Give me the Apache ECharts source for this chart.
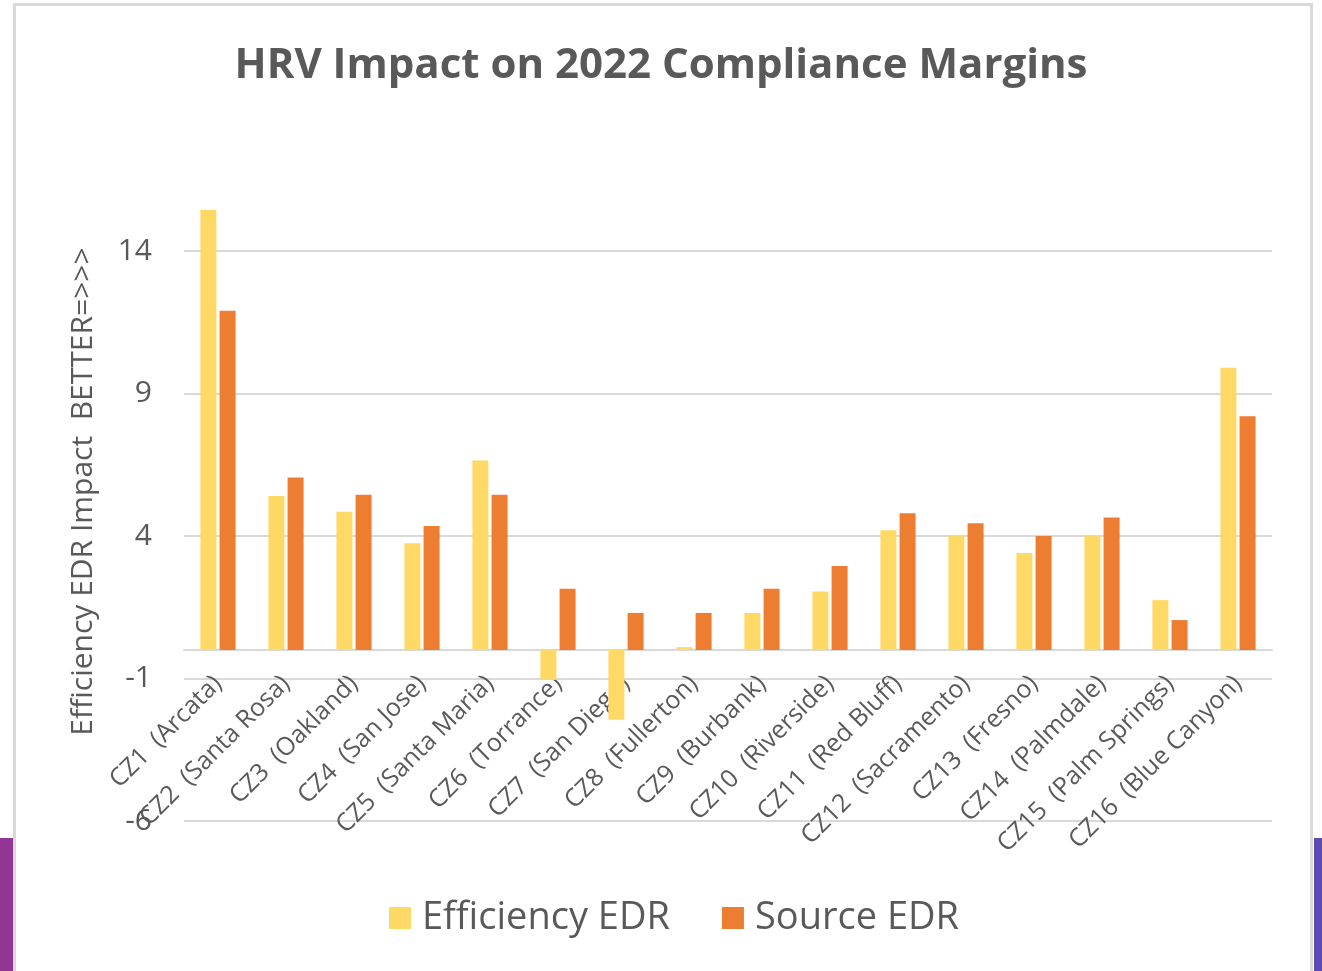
<!DOCTYPE html>
<html>
<head>
<meta charset="utf-8">
<script src="https://cdn.jsdelivr.net/npm/echarts@6/dist/echarts.min.js"></script>
<style>
  html, body { margin: 0; padding: 0; background: #ffffff; }
  #chart { width: 1322px; height: 971px; }
</style>
</head>
<body>
<div id="chart"></div>
<script>
const categories = [
  'CZ1  (Arcata)', 'CZ2  (Santa Rosa)', 'CZ3  (Oakland)', 'CZ4  (San Jose)',
  'CZ5  (Santa Maria)', 'CZ6  (Torrance)', 'CZ7  (San Diego)', 'CZ8  (Fullerton)',
  'CZ9  (Burbank)', 'CZ10  (Riverside)', 'CZ11  (Red Bluff)', 'CZ12  (Sacramento)',
  'CZ13  (Fresno)', 'CZ14  (Palmdale)', 'CZ15  (Palm Springs)', 'CZ16  (Blue Canyon)'
];
const efficiencyEDR = [15.45, 5.4, 4.85, 3.75, 6.65, -1.05, -2.45, 0.1, 1.3, 2.05, 4.2, 4.0, 3.4, 4.0, 1.75, 9.9];
const sourceEDR = [11.9, 6.05, 5.45, 4.35, 5.45, 2.15, 1.3, 1.3, 2.15, 2.95, 4.8, 4.45, 4.0, 4.65, 1.05, 8.2];
const yTicks = { min: -6, max: 16, interval: 5 };

const textColor = '#595959';
const font = '"Open Sans", "Noto Sans", sans-serif';

// plot area, in px
const gridTop = 194;
const gridBottom = 150;
const plotHeight = 971 - gridTop - gridBottom;
// distance of the zero line above the plot bottom
const zeroOffset = plotHeight * (0 - yTicks.min) / (yTicks.max - yTicks.min);

const chart = echarts.init(document.getElementById('chart'), null, { renderer: 'canvas' });

chart.setOption({
  backgroundColor: '#ffffff',
  animation: false,
  textStyle: { fontFamily: font },
  title: {
    text: 'HRV Impact on 2022 Compliance Margins',
    left: 'center',
    top: 40,
    textStyle: { fontFamily: font, fontSize: 42, fontWeight: 'bold', color: textColor }
  },
  graphic: [
    { type: 'rect', shape: { x: 0, y: 838, width: 13, height: 133 }, style: { fill: '#933594' } },
    { type: 'rect', shape: { x: 1314, y: 838, width: 8, height: 133 }, style: { fill: '#5e4ab4' } },
    { type: 'rect', shape: { x: 14.5, y: 4.5, width: 1297, height: 980 }, style: { fill: 'none', stroke: '#d9d9d9', lineWidth: 3 } }
  ],
  legend: {
    bottom: 29,
    left: 384,
    itemWidth: 22,
    itemHeight: 22,
    itemGap: 52,
    icon: 'rect',
    textStyle: { fontFamily: font, fontSize: 38, color: textColor, padding: [0, 0, 0, 6] },
    data: ['Efficiency EDR', 'Source EDR']
  },
  grid: { left: 184, right: 50, top: gridTop, bottom: gridBottom, outerBoundsMode: 'none', containLabel: false },
  xAxis: {
    type: 'category',
    data: categories,
    offset: -zeroOffset,
    axisLine: { onZero: false, lineStyle: { color: '#d9d9d9', width: 2 } },
    axisTick: { show: false },
    axisLabel: {
      rotate: 45,
      interval: 0,
      margin: 30,
      fontFamily: font,
      fontSize: 25,
      color: textColor
    }
  },
  yAxis: {
    type: 'value',
    min: yTicks.min,
    max: yTicks.max,
    interval: yTicks.interval,
    name: 'Efficiency EDR Impact  BETTER=>>>',
    nameLocation: 'middle',
    nameGap: 86,
    nameTextStyle: { fontFamily: font, fontSize: 30, color: textColor, padding: [0, 0, 0, 32] },
    axisLine: { show: false },
    axisTick: { show: false },
    axisLabel: { fontFamily: font, fontSize: 30, color: textColor, margin: 32, showMaxLabel: false },
    splitLine: { show: true, showMaxLine: false, lineStyle: { color: '#d9d9d9', width: 2 } }
  },
  series: [
    {
      name: 'Efficiency EDR',
      type: 'bar',
      data: efficiencyEDR,
      barWidth: 16,
      barGap: '20%',
      itemStyle: { color: '#ffd966' }
    },
    {
      name: 'Source EDR',
      type: 'bar',
      data: sourceEDR,
      barWidth: 16,
      itemStyle: { color: '#ed7d31' }
    }
  ]
});
</script>
</body>
</html>
